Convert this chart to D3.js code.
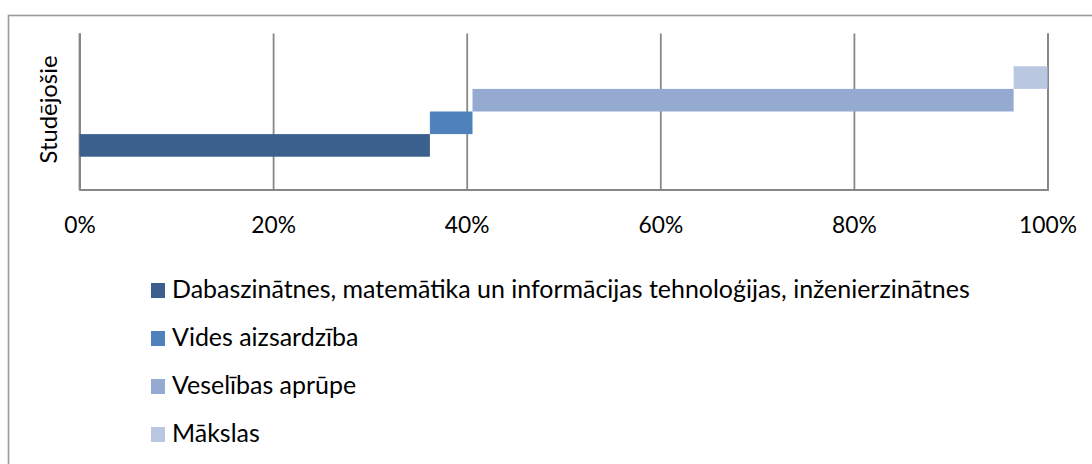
<!DOCTYPE html>
<html>
<head>
<meta charset="utf-8">
<script src="https://cdn.jsdelivr.net/npm/d3@7"></script>
<style>
  html, body { margin: 0; padding: 0; background: #fff; }
  svg { display: block; }
  text { font-family: Lato, "Open Sans", sans-serif; fill: #000; }
</style>
</head>
<body>
<svg id="chart" width="1092" height="464"></svg>
<script>
// ---- data ----
const categories = ["Studējošie"];
const seriesNames = [
  "Dabaszinātnes, matemātika un informācijas tehnoloģijas, inženierzinātnes",
  "Vides aizsardzība",
  "Veselības aprūpe",
  "Mākslas"
];
const seriesValues = [36.2, 4.4, 55.9, 3.5];
const tickValues = [0, 20, 40, 60, 80, 100];
const tickLabels = ["0%", "20%", "40%", "60%", "80%", "100%"];
const seriesColors = ["#3B608D", "#4F81BD", "#95AAD0", "#BAC7E1"];

// ---- layout ----
const svg = d3.select("#chart");
const W = 1092, H = 464;
const plot = { left: 79.5, right: 1047.5, top: 33.5, bottom: 189.5 };

// outer border
svg.append("rect")
  .attr("x", 8.5).attr("y", 15.5)
  .attr("width", W + 10).attr("height", H + 10)
  .attr("fill", "#fff").attr("stroke", "#9a9a9a").attr("stroke-width", 1.6);

const x = d3.scaleLinear().domain([0, 100]).range([plot.left, plot.right]);
const yCat = d3.scaleBand().domain(categories).range([plot.top, plot.bottom]);
const ySer = d3.scaleBand()
  .domain(d3.range(seriesValues.length).reverse())
  .range([yCat(categories[0]), yCat(categories[0]) + yCat.bandwidth()])
  .paddingInner(0).paddingOuter(1.45);

// gridlines + axis
const xAxis = d3.axisBottom(x)
  .tickValues(tickValues)
  .tickSize(-(plot.bottom - plot.top))
  .tickFormat((d, i) => tickLabels[i]);

const gAxis = svg.append("g")
  .attr("transform", `translate(0,${plot.bottom})`)
  .call(xAxis);
gAxis.select(".domain").attr("stroke", "#878787").attr("stroke-width", 1.8);
gAxis.selectAll(".tick line").attr("stroke", "#878787").attr("stroke-width", 1.8);
gAxis.selectAll(".tick text")
  .attr("y", 0).attr("dy", 0)
  .attr("transform", "translate(0,43)")
  .style("font-family", "Lato, sans-serif")
  .style("font-size", "23px")
  .attr("fill", "#000");

// left axis line
svg.append("line")
  .attr("x1", plot.left).attr("x2", plot.left)
  .attr("y1", plot.top).attr("y2", plot.bottom)
  .attr("stroke", "#878787").attr("stroke-width", 1.8);

// floating bars
const starts = [0, ...d3.cumsum(seriesValues)].slice(0, seriesValues.length);
svg.append("g").selectAll("rect")
  .data(seriesValues)
  .join("rect")
  .attr("x", (d, i) => x(starts[i]))
  .attr("width", (d, i) => x(starts[i] + d) - x(starts[i]))
  .attr("y", (d, i) => ySer(i))
  .attr("height", ySer.bandwidth())
  .attr("fill", (d, i) => seriesColors[i]);

// y-axis title
const yTitle = svg.append("text")
  .attr("transform", `translate(57,${(plot.top + plot.bottom) / 2 - 2}) rotate(-90)`)
  .attr("text-anchor", "middle")
  .style("font-size", "23px")
  .text(categories[0]);

// legend
const legend = svg.append("g");
const rows = legend.selectAll("g")
  .data(seriesNames)
  .join("g")
  .attr("transform", (d, i) => `translate(151,${283 + i * 48})`);
rows.append("rect")
  .attr("width", 14).attr("height", 15)
  .attr("fill", (d, i) => seriesColors[i]);
const legTexts = rows.append("text")
  .attr("x", 21).attr("y", 15)
  .style("font-size", "23px")
  .text(d => d);

// fit fonts to reference widths
function fit(sel, target, base) {
  const w = sel.node().getComputedTextLength();
  return base * target / w;
}
const legSize = fit(legTexts.filter((d, i) => i === 0), 798, 23);
legTexts.style("font-size", legSize + "px");
const tickSel = gAxis.selectAll(".tick text").filter((d, i) => i === 5);
const tickSize = fit(tickSel, 58, 23);
gAxis.selectAll(".tick text").style("font-size", tickSize + "px");
const titleSize = fit(yTitle, 108, 23);
yTitle.style("font-size", titleSize + "px");
</script>
</body>
</html>
